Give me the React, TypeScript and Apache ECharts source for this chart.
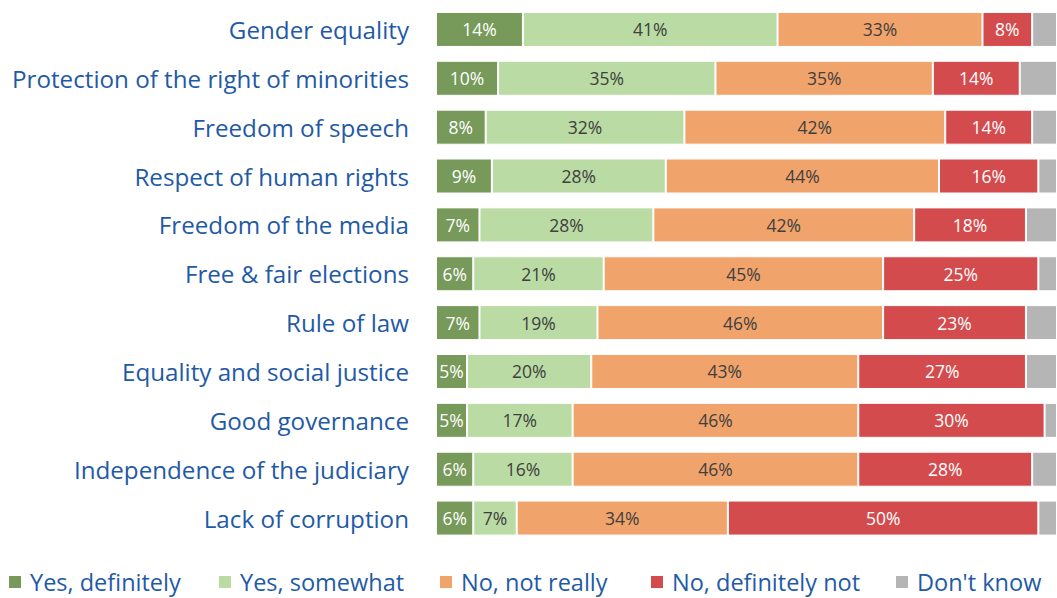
import React, { useEffect, useRef } from "react";
import * as echarts from "echarts";

const categories = [
  "Gender equality",
  "Protection of the right of minorities",
  "Freedom of speech",
  "Respect of human rights",
  "Freedom of the media",
  "Free & fair elections",
  "Rule of law",
  "Equality and social justice",
  "Good governance",
  "Independence of the judiciary",
  "Lack of corruption",
];

const yesDefinitely = [14, 10, 8, 9, 7, 6, 7, 5, 5, 6, 6];
const yesSomewhat = [41, 35, 32, 28, 28, 21, 19, 20, 17, 16, 7];
const noNotReally = [33, 35, 42, 44, 42, 45, 46, 43, 46, 46, 34];
const noDefinitelyNot = [8, 14, 14, 16, 18, 25, 23, 27, 30, 28, 50];
const dontKnow = [4, 6, 4, 3, 5, 3, 5, 5, 2, 4, 3];

const seriesNames = ["Yes, definitely", "Yes, somewhat", "No, not really", "No, definitely not", "Don't know"];
const seriesColors = ["#77995a", "#badba3", "#f1a36c", "#d44b4d", "#b5b5b5"];
const labelColors = ["#ffffff", "#404040", "#404040", "#ffffff", "#404040"];
const legendLefts = [7, 217, 438, 649, 894];

const FONT = "'Open Sans', sans-serif";

export default function App() {
  const ref = useRef<HTMLDivElement>(null);
  useEffect(() => {
    if (!ref.current) return;
    const chart = echarts.init(ref.current, undefined, { renderer: "svg" });
    const allData = [yesDefinitely, yesSomewhat, noNotReally, noDefinitelyNot, dontKnow];
    chart.setOption({
      animation: false,
      textStyle: { fontFamily: FONT },
      grid: { left: 436, width: 625, top: 5, height: 537.5, containLabel: false },
      xAxis: {
        type: "value",
        min: 0,
        max: 100,
        show: false,
      },
      yAxis: {
        type: "category",
        data: categories,
        inverse: true,
        axisLine: { show: false },
        axisTick: { show: false },
        splitLine: { show: false },
        axisLabel: {
          fontSize: 24.2,
          color: "#1f5aa6",
          margin: 27,
          fontFamily: FONT,
        },
      },
      legend: seriesNames.map((n, i) => ({
        left: legendLefts[i],
        top: 570,
        padding: 0,
        icon: "rect",
        itemWidth: 14,
        itemHeight: 14,
        itemGap: 0,
        textStyle: { fontSize: 23.5, color: "#1f5aa6", fontFamily: FONT, padding: [0, 0, 0, 3] },
        data: [n],
      })),
      series: allData.map((d, i) => ({
        name: seriesNames[i],
        type: "bar",
        stack: "total",
        data: d,
        barWidth: 35,
        itemStyle: { color: seriesColors[i], borderColor: "#ffffff", borderWidth: 1 },
        label: {
          show: i < 4,
          position: "inside",
          formatter: "{c}%",
          fontSize: 17.5,
          color: labelColors[i],
          fontFamily: FONT,
        },
      })),
    });
    return () => chart.dispose();
  }, []);
  return (
    <div
      ref={ref}
      style={{ position: "fixed", left: 0, top: 0, width: 1057, height: 598, overflow: "hidden", background: "#ffffff" }}
    />
  );
}
